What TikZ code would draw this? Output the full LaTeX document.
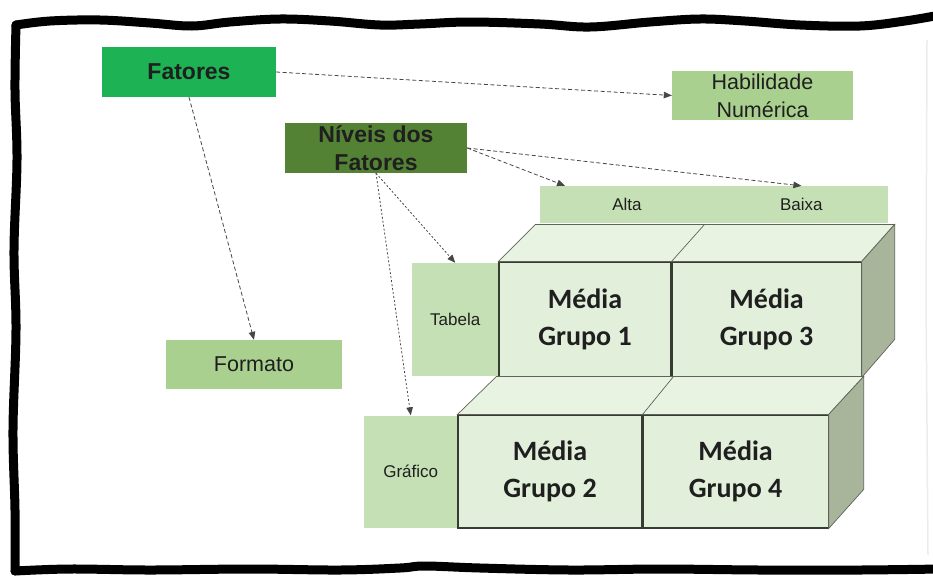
\documentclass[tikz,border=0pt]{standalone}
\usepackage{fontspec}
\setmainfont{Liberation Sans}
\newfontfamily\calibri{Carlito}
\usetikzlibrary{arrows.meta, positioning, calc}

\definecolor{fatgreen}{RGB}{29,178,84}
\definecolor{nivgreen}{RGB}{84,130,53}
\definecolor{midgreen}{RGB}{169,208,142}
\definecolor{palegreen}{RGB}{197,224,180}
\definecolor{facegreen}{RGB}{226,239,218}
\definecolor{topgreen}{RGB}{233,243,226}
\definecolor{sidegreen}{RGB}{168,181,154}
\definecolor{edgegray}{RGB}{55,60,50}

\begin{document}
\begin{tikzpicture}[
            x=1pt, y=-1pt,
            box/.style={rectangle, inner sep=0pt, align=center, text=black!88},
            factor/.style={box, minimum height=50pt, font=\fontsize{23}{28}\selectfont\bfseries},
            light/.style={box, fill=midgreen, font=\fontsize{21.5}{28}\selectfont},
            pale/.style={box, fill=palegreen, font=\fontsize{17}{20}\selectfont},
            face/.style={box, draw=edgegray, line width=1.1pt, fill=facegreen, font=\calibri\fontsize{28}{37}\selectfont\bfseries},
            topface/.style={draw=edgegray!80, line width=0.7pt, fill=topgreen},
            sideface/.style={draw=edgegray!80, line width=0.7pt, fill=sidegreen},
            link/.style={-{Triangle[length=8pt,width=6.5pt]}, gray!55!black, line width=0.8pt, dash pattern=on 4pt off 2.5pt},
            dotlink/.style={link, dash pattern=on 2pt off 2pt},
            frame/.style={line width=9pt, line cap=round, line join=round}
        ]
        \useasboundingbox (0,0) rectangle (933,576);

        % hand drawn frame
        \draw[frame] plot[smooth, tension=0.6] coordinates {(940,15) (905,21) (860,26) (800,25) (745,21) (700,19) (650,22) (590,27) (540,24) (470,22) (420,24) (380,25) (330,21) (280,19) (230,22) (192,26) (150,23) (100,20) (50,21) (16,25)};
        \draw[frame] plot[smooth, tension=0.6] coordinates {(16,25) (15,90) (17,160) (14,250) (16,330) (13,430) (15,510) (15,571)};
        \draw[frame] plot[smooth, tension=0.6] coordinates {(15,571) (70,569) (150,570) (250,569) (340,570) (400,568) (425,566) (480,568) (570,570) (660,569) (760,570) (860,570) (940,569)};
        \draw[gray!15, line width=1.5pt] (927,40) -- (926,300) -- (928,555);

        \node[factor, fill=fatgreen, minimum width=174pt] (fatores) at (189,72) {Fatores};
        \node[factor, fill=nivgreen, minimum width=182pt] (niveis) at (376,148) {Níveis dos\\Fatores};
        \node[light, minimum width=181pt, minimum height=49pt] (habilidade) at (762.5,95.5) {Habilidade\\Numérica};
        \node[light, minimum width=176pt, minimum height=49pt] (formato) at (254,364.5) {Formato};

        \node[pale, minimum width=174pt, minimum height=37pt] (alta) at (627,204.5) {Alta};
        \node[pale, minimum width=174pt, minimum height=37pt, right=0pt of alta] (baixa) {Baixa};

        \node[face, minimum width=172pt, minimum height=115pt] (grupo1) at (585,319.5) {Média\\Grupo 1};
        \node[face, minimum width=189pt, minimum height=115pt, right=0pt of grupo1] (grupo3) {Média\\Grupo 3};
        \node[pale, minimum width=86pt, minimum height=113pt, left=0pt of grupo1] (tabela) {Tabela};

        \node[face, minimum width=184pt, minimum height=113pt] (grupo2) at (550,471.5) {Média\\Grupo 2};
        \node[face, minimum width=185pt, minimum height=113pt, right=0pt of grupo2] (grupo4) {Média\\Grupo 4};
        \node[pale, minimum width=93pt, minimum height=112pt, left=0pt of grupo2] (grafico) {Gráfico};

        \draw[topface] (grupo1.north west) -- ++(37,-37) -- ($(grupo3.north east)+(33,-37)$) -- (grupo3.north east) -- cycle;
        \draw[edgegray!80, line width=0.7pt] (grupo1.north east) -- ++(33,-37);
        \draw[sideface] (grupo3.north east) -- ++(33,-37) -- ++(0,115) -- (grupo3.south east) -- cycle;

        \draw[topface] (grupo2.north west) -- ++(39,-38) -- ($(grupo4.north east)+(35,-38)$) -- (grupo4.north east) -- cycle;
        \draw[edgegray!80, line width=0.7pt] (grupo2.north east) -- ++(31,-38);
        \draw[sideface] (grupo4.north east) -- ++(35,-38) -- ++(0,113) -- (grupo4.south east) -- cycle;

        \draw[link] (fatores.east) -- (habilidade.west);
        \draw[link] (fatores.south) -- (formato.north);
        \draw[link] (niveis.east) -- ([xshift=-62pt]alta.north);
        \draw[link] (niveis.east) -- (baixa.north);
        \draw[dotlink] (niveis.south) -- (tabela.north);
        \draw[dotlink] (niveis.south) -- (grafico.north);

    \end{tikzpicture}
\end{document}
